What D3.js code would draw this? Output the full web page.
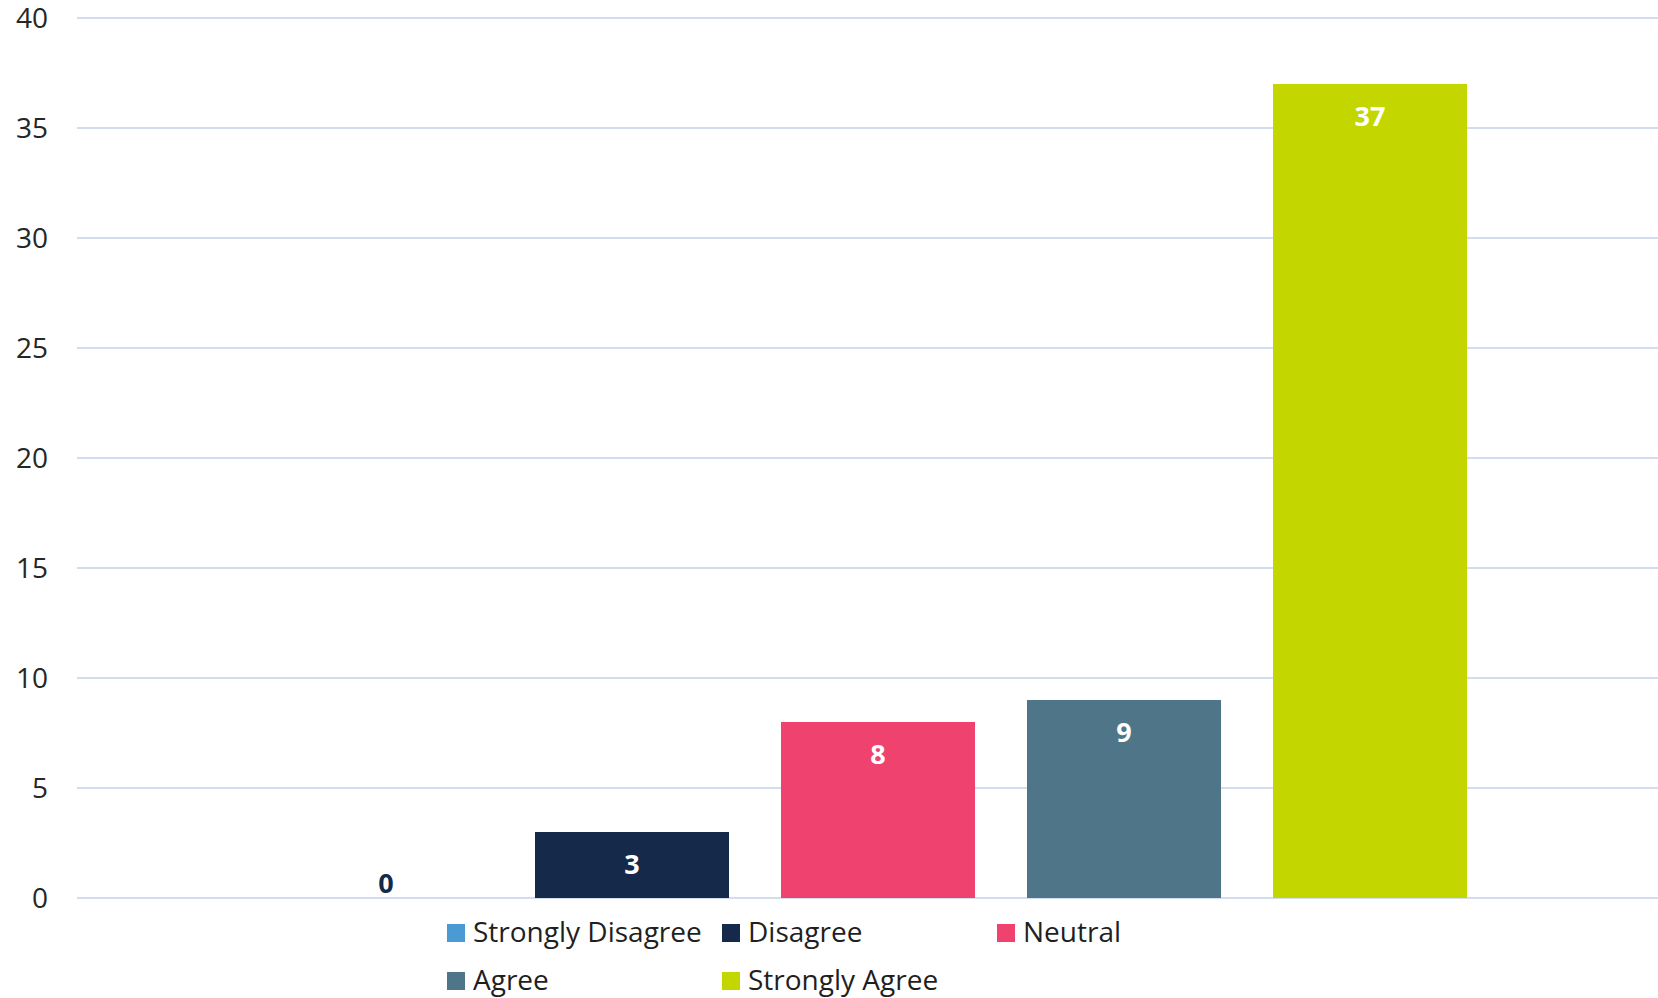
<!DOCTYPE html>
<html>
<head>
<meta charset="utf-8">
<script src="https://cdn.jsdelivr.net/npm/d3@7"></script>
<style>
  html, body { margin: 0; padding: 0; background: #fff; }
  svg { display: block; }
  text { font-family: "Open Sans", "Noto Sans", sans-serif; }
</style>
</head>
<body>
<svg id="chart" width="1658" height="998"></svg>
<script>
const categories = ["Strongly Disagree", "Disagree", "Neutral", "Agree", "Strongly Agree"];
const values = [0, 3, 8, 9, 37];
const colors = ["#4A9BD4", "#15294B", "#EF426F", "#4F7589", "#C4D600"];
const yTicks = [0, 5, 10, 15, 20, 25, 30, 35, 40];

const W = 1658, H = 998;
const plot = { left: 77, right: 1658, top: 18, bottom: 898 };

const svg = d3.select("#chart");

const y = d3.scaleLinear().domain([0, 40]).range([plot.bottom, plot.top]);
const x = d3.scaleBand()
  .domain(categories)
  .range([263, 1493])
  .paddingInner(0.2114)
  .paddingOuter(0.1057);

// gridlines
svg.append("g")
  .selectAll("line")
  .data(yTicks)
  .join("line")
  .attr("x1", plot.left).attr("x2", plot.right)
  .attr("y1", d => y(d)).attr("y2", d => y(d))
  .attr("stroke", "#D3DDF0")
  .attr("stroke-width", 2);

// y axis labels
const yAxis = d3.axisLeft(y).tickValues(yTicks).tickSize(0).tickPadding(0);
const gy = svg.append("g").attr("transform", "translate(48,0)").call(yAxis);
gy.select(".domain").remove();
gy.selectAll("text")
  .attr("fill", "#262626")
  .style("font-size", "28px")
  .style("font-family", "'Open Sans', sans-serif")
  .attr("dy", "0.35em");

// bars
svg.append("g")
  .selectAll("rect")
  .data(categories)
  .join("rect")
  .attr("x", d => x(d))
  .attr("width", x.bandwidth())
  .attr("y", (d, i) => y(values[i]))
  .attr("height", (d, i) => y(0) - y(values[i]))
  .attr("fill", (d, i) => colors[i]);

// labels
svg.append("g")
  .selectAll("text")
  .data(categories)
  .join("text")
  .attr("x", d => x(d) + x.bandwidth() / 2)
  .attr("y", (d, i) => values[i] === 0 ? y(0) - 5 : y(values[i]) + 42)
  .attr("text-anchor", "middle")
  .attr("fill", (d, i) => values[i] === 0 ? "#15294B" : "#ffffff")
  .style("font-size", "27px")
  .style("font-weight", "bold")
  .text((d, i) => values[i]);

// legend
const colX = [447, 722, 997];
const rowY = [924, 972];
const leg = svg.append("g")
  .selectAll("g")
  .data(categories)
  .join("g")
  .attr("transform", (d, i) => `translate(${colX[i % 3]},${rowY[Math.floor(i / 3)]})`);
leg.append("rect")
  .attr("width", 18).attr("height", 18)
  .attr("fill", (d, i) => colors[i]);
leg.append("text")
  .attr("x", 26)
  .attr("y", 18)
  .attr("fill", "#1F1F1F")
  .style("font-size", "28px")
  .text(d => d);
</script>
</body>
</html>
